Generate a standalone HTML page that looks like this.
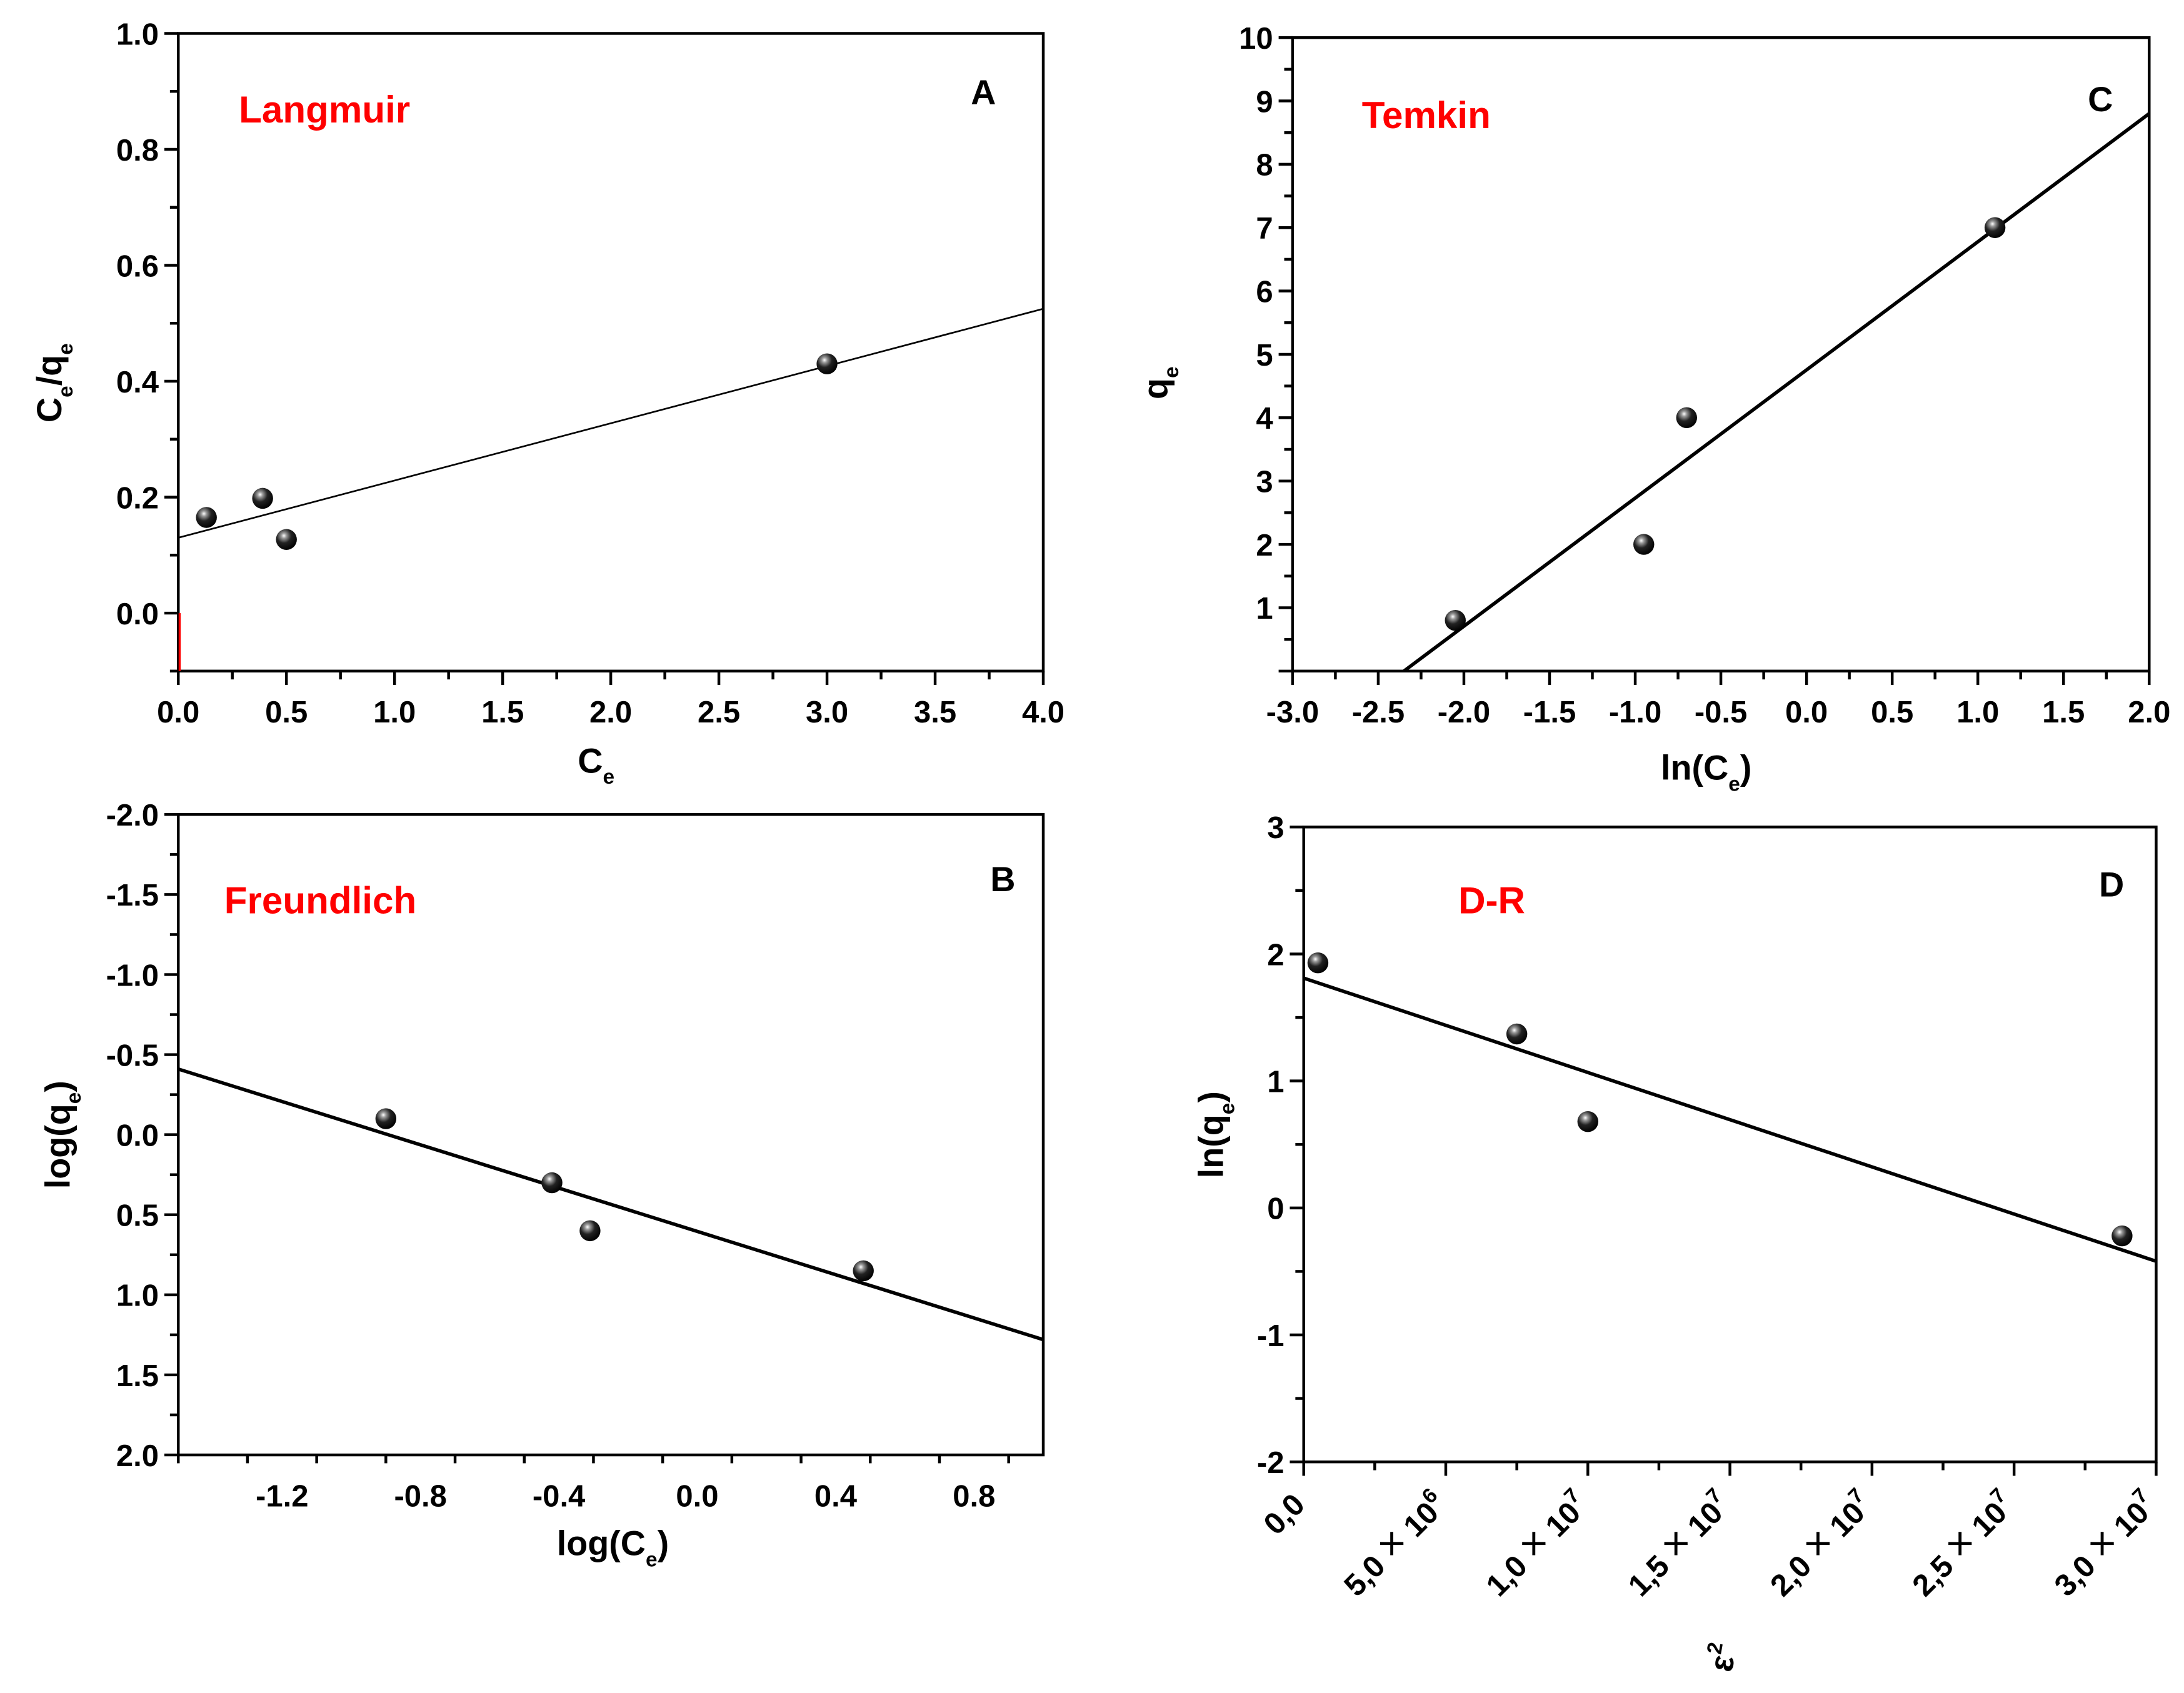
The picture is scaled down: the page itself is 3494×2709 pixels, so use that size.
<!DOCTYPE html>
<html><head><meta charset="utf-8"><title>Isotherm fits</title>
<style>
html,body{margin:0;padding:0;background:#fff;}
svg{display:block;}
text{font-family:"Liberation Sans",Arial,sans-serif;font-weight:bold;}
</style></head>
<body>
<svg id="fig" width="3494" height="2709" viewBox="0 0 1568 1216" preserveAspectRatio="none" xmlns="http://www.w3.org/2000/svg">
<defs>
<radialGradient id="ball" cx="0.38" cy="0.32" r="0.7">
<stop offset="0" stop-color="#fff"/>
<stop offset="0.18" stop-color="#999"/>
<stop offset="0.5" stop-color="#222"/>
<stop offset="1" stop-color="#000"/>
</radialGradient>
</defs>
</svg>
<script>
// Panel A - Langmuir
const aX = [0.13, 0.39, 0.5, 3.0];
const aY = [0.165, 0.198, 0.127, 0.43];
const aFitX = [0, 4];
const aFitY = [0.13, 0.525];
const aXTicks = ["0.0","0.5","1.0","1.5","2.0","2.5","3.0","3.5","4.0"];
const aYTicks = ["0.0","0.2","0.4","0.6","0.8","1.0"];
// Panel C - Temkin
const cX = [-2.05, -0.95, -0.7, 1.1];
const cY = [0.8, 2.0, 4.0, 7.0];
const cFitX = [-2.35, 2.0];
const cFitY = [0, 8.8];
const cXTicks = ["-3.0","-2.5","-2.0","-1.5","-1.0","-0.5","0.0","0.5","1.0","1.5","2.0"];
const cYTicks = ["1","2","3","4","5","6","7","8","9","10"];
// Panel B - Freundlich
const bX = [-0.9, -0.42, -0.31, 0.48];
const bY = [-0.1, 0.3, 0.6, 0.85];
const bFitX = [-1.5, 1.0];
const bFitY = [-0.41, 1.28];
const bXTicks = ["-1.2","-0.8","-0.4","0.0","0.4","0.8"];
const bYTicks = ["-2.0","-1.5","-1.0","-0.5","0.0","0.5","1.0","1.5","2.0"];
// Panel D - D-R
const dX = [0.05e7, 0.75e7, 1.0e7, 2.88e7];
const dY = [1.93, 1.37, 0.68, -0.22];
const dFitX = [0, 3e7];
const dFitY = [1.81, -0.42];
const dXMant = ["0,0","5,0","1,0","1,5","2,0","2,5","3,0"];
const dXExp = ["","6","7","7","7","7","7"];
const dYTicks = ["-2","-1","0","1","2","3"];

const NS="http://www.w3.org/2000/svg";
const svg=document.getElementById('fig');
function el(tag,attrs,parent){const e=document.createElementNS(NS,tag);for(const k in attrs)e.setAttribute(k,attrs[k]);(parent||svg).appendChild(e);return e;}

function panel(o){
  const g=el('g',{});
  
  
  const sx=v=>o.x0+(v-o.xmin)/(o.xmax-o.xmin)*(o.x1-o.x0);
  const sy=v=>o.ytop+(v-o.ytopv)/(o.ybotv-o.ytopv)*(o.ybot-o.ytop);
  const ln=el('line',{x1:sx(o.fx[0]),y1:sy(o.fy[0]),x2:sx(o.fx[1]),y2:sy(o.fy[1]),stroke:'#000','stroke-width':o.fw},g);
  
  
  const fr=el('rect',{x:o.x0,y:o.ytop,width:o.x1-o.x0,height:o.ybot-o.ytop,fill:'none',stroke:'#000','stroke-width':2},g);
  
  
  for(let v=o.xmin;v<=o.xmax+1e-9*Math.abs(o.xmax||1);v+=o.xminor){
    const isMaj=Math.abs((v-o.xmaj0)/o.xmajor-Math.round((v-o.xmaj0)/o.xmajor))<1e-6;
    el('line',{x1:sx(v),y1:o.ybot,x2:sx(v),y2:o.ybot+(isMaj?10:6),stroke:'#000','stroke-width':2},g);
  }
  const lo=Math.min(o.ytopv,o.ybotv),hi=Math.max(o.ytopv,o.ybotv);
  for(let v=lo;v<=hi+1e-9;v+=o.yminor){
    const isMaj=Math.abs((v-o.ymaj0)/o.ymajor-Math.round((v-o.ymaj0)/o.ymajor))<1e-6;
    el('line',{x1:o.x0,y1:sy(v),x2:o.x0-(isMaj?10:6),y2:sy(v),stroke:'#000','stroke-width':2},g);
  }
  o.xlabels && o.xlabels.forEach((t,i)=>{
    const v=o.xmaj0+i*o.xmajor;
    const tx=el('text',{x:sx(v),y:o.ybot+37,'font-size':22,'text-anchor':'middle'},g);
    tx.textContent=t;
    
    
  });
  o.ylabels.forEach((t,i)=>{
    const v=o.ymaj0+i*o.ymajor;
    const tx=el('text',{x:o.x0-14,y:sy(v)+8,'font-size':22,'text-anchor':'end'},g);
    tx.textContent=t;
    
    
  });
  o.px.forEach((v,i)=>{
    const c=el('circle',{cx:sx(v),cy:sy(o.py[i]),r:7.5,fill:'url(#ball)'},g);
    
    
  });
  const lb=el('text',{x:o.lab[0],y:o.lab[1],'font-size':27,fill:'#f00','text-anchor':'middle'},g);
  lb.textContent=o.label;
  
  
  const pl=el('text',{x:o.let[0],y:o.let[1],'font-size':25,'text-anchor':'middle'},g);
  pl.textContent=o.letter;
  
  
  return {g,sx,sy};
}

const A=panel({name:'panel-a-langmuir',x0:128,x1:749,ytop:24,ybot:482,xmin:0,xmax:4,ytopv:1.0,ybotv:-0.1,
  xminor:0.25,xmajor:0.5,xmaj0:0,yminor:0.1,ymajor:0.2,ymaj0:0,xlabels:aXTicks,ylabels:aYTicks,
  px:aX,py:aY,fx:aFitX,fy:aFitY,fw:1.2,label:'Langmuir',lab:[233,88],letter:'A',let:[706,75]});
el('line',{x1:129,y1:A.sy(0),x2:129,y2:482,stroke:'#f00','stroke-width':1.5});

const C=panel({name:'panel-c-temkin',x0:928,x1:1543,ytop:27,ybot:482,xmin:-3,xmax:2,ytopv:10,ybotv:0,
  xminor:0.25,xmajor:0.5,xmaj0:-3,yminor:0.5,ymajor:1,ymaj0:1,xlabels:cXTicks,ylabels:cYTicks,
  px:cX,py:cY,fx:cFitX,fy:cFitY,fw:2.5,label:'Temkin',lab:[1024,92],letter:'C',let:[1508,80]});

const B=panel({name:'panel-b-freundlich',x0:128,x1:749,ytop:585,ybot:1045,xmin:-1.5,xmax:1.0,ytopv:-2,ybotv:2,
  xminor:0.2,xmajor:0.4,xmaj0:-1.2,yminor:0.25,ymajor:0.5,ymaj0:-2,xlabels:bXTicks,ylabels:bYTicks,
  px:bX,py:bY,fx:bFitX,fy:bFitY,fw:2.5,label:'Freundlich',lab:[230,656],letter:'B',let:[720,640]});

const D=panel({name:'panel-d-dr',x0:936,x1:1548,ytop:594,ybot:1050,xmin:0,xmax:3e7,ytopv:3,ybotv:-2,
  xminor:0.25e7,xmajor:0.5e7,xmaj0:0,yminor:0.5,ymajor:1,ymaj0:-2,xlabels:null,ylabels:dYTicks,
  px:dX,py:dY,fx:dFitX,fy:dFitY,fw:2.5,label:'D-R',lab:[1071,656],letter:'D',let:[1516,644]});
dXMant.forEach((m,i)=>{
  const x=D.sx(i*0.5e7)+2, y=1082;
  const t=el('text',{x:x,y:y,'font-size':22,'text-anchor':'end',transform:`rotate(-45 ${x} ${y})`});
  
  
  if(dXExp[i]){
    t.appendChild(document.createTextNode(m+' '));
    const x1=el('tspan',{'font-size':30,'font-weight':'normal'},t); x1.textContent='\u00d7';
    t.appendChild(document.createTextNode(' 10'));
    const s=el('tspan',{dy:-10,'font-size':15},t); s.textContent=dXExp[i];
  } else t.textContent=m;
});

function title(txt,x,y,rot,sub,after,name){
  const t=el('text',{x:x,y:y,'font-size':25,'text-anchor':'middle',transform:rot?`rotate(${rot} ${x} ${y})`:''});
  
  
  t.appendChild(document.createTextNode(txt));
  if(sub){const s=el('tspan',{dy:8,'font-size':15},t);s.textContent=sub;}
  if(after){const s=el('tspan',{dy:-8},t);s.textContent=after;}
}
title('C',428,555,0,'e','','x-axis-title-a');
title('C',44,275,-90,'e','/q','y-axis-title-a');
(function(){const t=svg.lastChild;const s=el('tspan',{dy:8,'font-size':15},t);s.textContent='e';})();
title('ln(C',1225,560,0,'e',')','x-axis-title-c');
title('q',838,275,-90,'e','','y-axis-title-c');
title('log(C',440,1117,0,'e',')','x-axis-title-b');
title('log(q',50,815,-90,'e',')','y-axis-title-b');
title('ln(q',878,815,-90,'e',')','y-axis-title-d');
(function(){const x=1245,y=1192;const t=el('text',{x:x,y:y,'font-size':24,'text-anchor':'middle',transform:`rotate(-80 ${x} ${y})`});


t.textContent='\u03b5';const s=el('tspan',{dy:-10,'font-size':15},t);s.textContent='2';})();
</script>
</body></html>
